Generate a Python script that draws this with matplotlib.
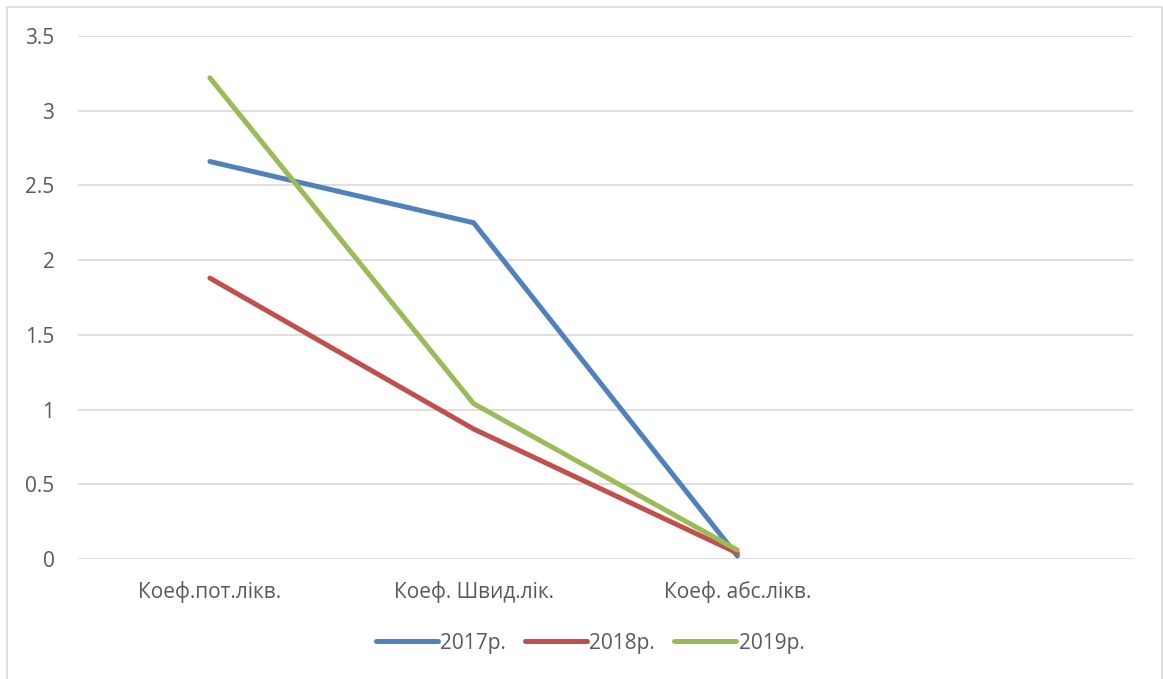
import numpy as np
from matplotlib import pyplot as plt
from matplotlib.patches import Rectangle

# data
categories = ['Коеф.пот.лікв.', 'Коеф. Швид.лік.', 'Коеф. абс.лікв.', '']
y2017 = [2.66, 2.25, 0.02]
y2018 = [1.88, 0.87, 0.04]
y2019 = [3.22, 1.04, 0.06]
series = [('2017р.', y2017, '#4F81BD'),
          ('2018р.', y2018, '#C0504D'),
          ('2019р.', y2019, '#9BBB59')]
yticks = [0, 0.5, 1, 1.5, 2, 2.5, 3, 3.5]
ytick_labels = ['0', '0.5', '1', '1.5', '2', '2.5', '3', '3.5']

plt.rcParams['font.family'] = ['Open Sans', 'DejaVu Sans']
txt = '#595959'
fs = 15

fig = plt.figure(figsize=(11.63, 6.79), dpi=100)
ax = fig.add_axes([78/1163, 1 - 559/679, (1133 - 78)/1163, (559 - 36)/679])

for name, vals, col in series:
    ax.plot(np.arange(len(vals)), vals, color=col, lw=3.6, label=name,
            solid_capstyle='round')

ax.set_xlim(-0.5, len(categories) - 0.5)
ax.set_ylim(0, 3.5)
ax.set_xticks(np.arange(len(categories)))
ax.set_xticklabels(categories)
ax.set_yticks(yticks)
ax.set_yticklabels(ytick_labels)
ax.tick_params(axis='both', length=0, labelsize=fs, colors=txt)
ax.tick_params(axis='y', pad=17)
ax.tick_params(axis='x', pad=16)
ax.grid(axis='y', color='#D9D9D9', lw=1.2)
ax.set_axisbelow(True)
for s in ax.spines.values():
    s.set_visible(False)

leg = fig.legend(loc='center', bbox_to_anchor=(590/1163, 1 - 643/679), ncol=3,
                 frameon=False, fontsize=fs, handlelength=3.0,
                 handletextpad=0.1, columnspacing=0.9)
for t in leg.get_texts():
    t.set_color(txt)

# outer chart border
fig.patches.append(Rectangle((7/1163, -0.01), 1155/1163, 1.01 - 7/679,
                             transform=fig.transFigure, fill=False,
                             edgecolor='#D9D9D9', lw=1.2))

plt.savefig('out.png', dpi=100)
